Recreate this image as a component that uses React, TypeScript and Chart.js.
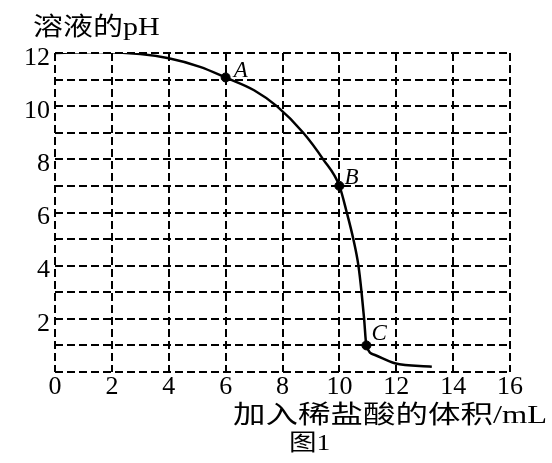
import React, { useEffect, useRef } from 'react';
import { Chart, registerables } from 'chart.js';

Chart.register(...registerables);

// ---- data ----
const volume = [0, 1.5, 3, 4, 5.1, 6, 7, 7.8, 8.73, 9.43, 10, 10.26, 10.49, 10.67, 10.78, 10.87, 10.95, 11.25, 11.95, 13.25];
const pH = [12, 12.04, 11.96, 11.8, 11.48, 11.08, 10.6, 10, 9, 8, 7, 6, 5, 4, 3, 2, 1, 0.64, 0.33, 0.2];
const markerVolume = [6, 10, 10.95];
const markerPH = [11.08, 7, 1];
const markerLabels = ['A', 'B', 'C'];
const yLabelValues = [2, 4, 6, 8, 10, 12];
const yTitle = '溶液的pH';
const xTitle = '加入稀盐酸的体积/mL';
const caption = '图1';

const SERIF = "'Liberation Serif', 'DejaVu Serif', 'Noto Sans CJK SC', serif";

const labelOffsets = [
  [8, 0],
  [5, -2],
  [5, -5],
];

const textPlugin = {
  id: 'textPlugin',
  afterDatasetsDraw(chart: any) {
    const ctx = chart.ctx;
    const area = chart.chartArea;
    ctx.save();
    ctx.fillStyle = '#000';
    ctx.textBaseline = 'alphabetic';
    ctx.textAlign = 'left';
    // point labels
    const meta = chart.getDatasetMeta(1);
    ctx.font = `italic 23px ${SERIF}`;
    meta.data.forEach((el: any, i: number) => {
      const [dx, dy] = labelOffsets[i];
      ctx.fillText(markerLabels[i], el.x + dx, el.y + dy);
    });
    // y title
    ctx.save();
    ctx.font = `25px ${SERIF}`;
    ctx.translate(area.left - 22, area.top - 18);
    ctx.scale(1.2, 1);
    ctx.fillText(yTitle, 0, 0);
    ctx.restore();
    // x title
    ctx.save();
    ctx.font = `25px ${SERIF}`;
    ctx.translate(area.left + 178, area.bottom + 51);
    ctx.scale(1.3, 1);
    ctx.fillText(xTitle, 0, 0);
    ctx.restore();
    // caption
    ctx.save();
    ctx.font = `23px ${SERIF}`;
    ctx.translate(area.left + 234, area.bottom + 78);
    ctx.scale(1.2, 1);
    ctx.fillText(caption, 0, 0);
    ctx.restore();
    ctx.restore();
  },
};

export default function App() {
  const ref = useRef<HTMLCanvasElement>(null);
  useEffect(() => {
    if (!ref.current) return;
    const chart = new Chart(ref.current, {
      type: 'line',
      data: {
        datasets: [
          {
            data: volume.map((v, i) => ({ x: v, y: pH[i] })),
            borderColor: '#000',
            borderWidth: 2.5,
            pointRadius: 0,
            fill: false,
            cubicInterpolationMode: 'monotone',
          },
          {
            type: 'scatter',
            data: markerVolume.map((v, i) => ({ x: v, y: markerPH[i] })),
            backgroundColor: '#000',
            borderColor: '#000',
            pointRadius: 4.5,
            showLine: false,
          } as any,
        ],
      },
      options: {
        animation: false,
        responsive: false,
        devicePixelRatio: 1,
        layout: { padding: { left: 0, top: 53, right: 42, bottom: 0 } },
        plugins: { legend: { display: false }, tooltip: { enabled: false }, title: { display: false } },
        scales: {
          x: {
            type: 'linear',
            min: 0,
            max: 16,
            ticks: {
              stepSize: 2,
              color: '#000',
              font: { family: SERIF, size: 26 },
              padding: 0,
              maxRotation: 0,
              autoSkip: false,
            },
            grid: { color: '#000', lineWidth: 2, drawTicks: false },
            border: { display: false, dash: [8, 4] },
            afterFit: (s: any) => {
              s.height = 91;
            },
          },
          y: {
            type: 'linear',
            min: 0,
            max: 12,
            ticks: {
              stepSize: 1,
              color: '#000',
              font: { family: SERIF, size: 26 },
              padding: 5,
              labelOffset: 5,
              autoSkip: false,
              callback: (v: any) => (yLabelValues.includes(Number(v)) ? String(v) : ''),
            },
            grid: { color: '#000', lineWidth: 2, drawTicks: false },
            border: { display: false, dash: [8, 4] },
            afterFit: (s: any) => {
              s.width = 55;
            },
          },
        },
      },
      plugins: [textPlugin],
    } as any);
    return () => chart.destroy();
  }, []);
  return (
    <div style={{ position: 'absolute', left: 0, top: 0, width: 552, height: 463, background: '#fff' }}>
      <canvas ref={ref} width={552} height={463} style={{ display: 'block' }} />
    </div>
  );
}
